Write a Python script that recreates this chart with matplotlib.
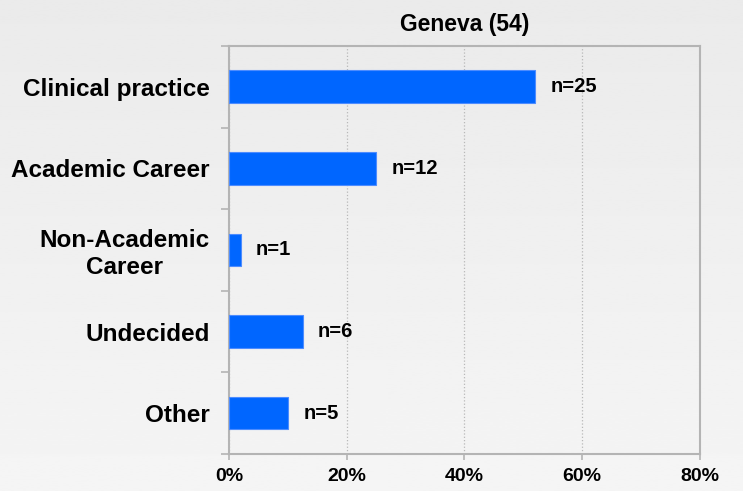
import matplotlib.pyplot as plt
import numpy as np

categories = ["Clinical practice", "Academic Career", "Non-Academic\nCareer", "Undecided", "Other"]
percents = [52, 25, 2, 12.5, 10]
counts = [25, 12, 1, 6, 5]
title = "Geneva (54)"
xticks = [0, 20, 40, 60, 80]

plt.rcParams['font.family'] = ['Liberation Sans', 'DejaVu Sans']
plt.rcParams['font.weight'] = 'bold'

fig = plt.figure(figsize=(7.43, 4.91), dpi=100)

# light gray vertical gradient behind everything
bg = fig.add_axes([0, 0, 1, 1], zorder=-10)
grad = np.linspace(0.92, 0.96, 256).reshape(-1, 1)
bg.imshow(grad, cmap='gray', vmin=0, vmax=1, aspect='auto', extent=[0, 1, 0, 1])
bg.axis('off')

ax = fig.add_axes([0.3082, 0.0754, 0.6339, 0.8310])
ax.set_facecolor('none')

y = np.arange(len(categories))
ax.barh(y, percents, height=0.4, color='#0066ff', edgecolor='#4d8cff', linewidth=0.8, zorder=3)
for yi, p, n in zip(y, percents, counts):
    ax.annotate(f"n={n}", (p, yi), xytext=(11, 0), textcoords='offset points',
                ha='left', va='center', fontsize=14.5, fontweight='bold')

ax.set_xlim(0, 80)
ax.set_ylim(len(categories) - 0.5, -0.5)
ax.set_xticks(xticks)
ax.set_xticklabels([f"{t}%" for t in xticks], fontsize=14, fontweight='bold')
ax.set_yticks(y)
ax.set_yticklabels(categories, fontsize=17.5, fontweight='bold')
for lab in ax.get_yticklabels():
    lab.set_multialignment('center')
ax.set_yticks(np.arange(len(categories) + 1) - 0.5, minor=True)
ax.tick_params(axis='y', which='major', length=0, pad=14)
ax.tick_params(axis='y', which='minor', length=6, width=1.2, color='#b4b4b4', direction='out')
ax.tick_params(axis='x', length=4, width=1.2, color='#b4b4b4', direction='out', pad=6)

ax.grid(axis='x', linestyle=':', color='#b8b8b8', linewidth=0.9, zorder=0)
for s in ax.spines.values():
    s.set_color('#b4b4b4')
    s.set_linewidth(1.5)

ax.set_title(title, fontsize=16.5, fontweight='bold', pad=11)

fig.savefig("out.png", dpi=100)
